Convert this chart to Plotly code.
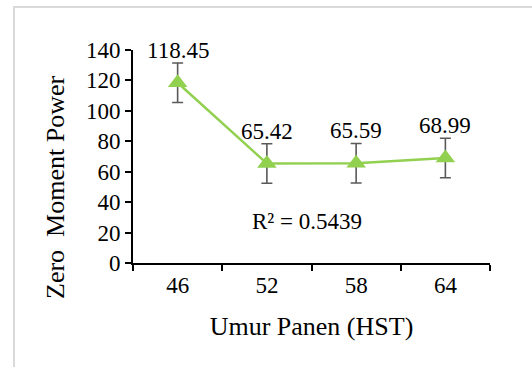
import plotly.graph_objects as go

categories = ["46", "52", "58", "64"]
values = [118.45, 65.42, 65.59, 68.99]
errors = [13, 13, 13, 13]
value_labels = ["118.45", "65.42", "65.59", "68.99"]
y_ticks = [0, 20, 40, 60, 80, 100, 120, 140]
r2_text = "R² = 0.5439"

green = "#92D050"
font_family = "Liberation Serif, Times New Roman, serif"
FS = 23
TFS = 26

fig = go.Figure()
fig.add_trace(go.Scatter(
    x=categories, y=values, mode="lines+markers",
    line=dict(color=green, width=2.5),
    marker=dict(symbol="triangle-up", size=17, color=green),
    error_y=dict(type="data", array=errors, visible=True, color="#595959", thickness=1.6, width=5.5),
    showlegend=False,
))

for i, (v, e, t) in enumerate(zip(values, errors, value_labels)):
    fig.add_annotation(x=i, y=v + e, xref="x", yref="y", text=t, showarrow=False,
                       yanchor="bottom", yshift=-2,
                       font=dict(family=font_family, size=FS, color="black"))

fig.add_annotation(x=1.45, y=27.5, xref="x", yref="y", text=r2_text, showarrow=False,
                   font=dict(family=font_family, size=FS, color="black"))

W, H = 532, 367
L, R, T, B = 133, 42, 50, 104
pw, ph = W - L - R, H - T - B

# y axis title as annotation (offset like reference)
fig.add_annotation(x=(55 - L) / pw, y=(H - B - 188) / ph, xref="paper", yref="paper",
                   xanchor="center", yanchor="middle",
                   text="Zero  Moment Power", showarrow=False, textangle=-90,
                   font=dict(family=font_family, size=TFS, color="black"))

fig.update_layout(
    width=W, height=H,
    margin=dict(l=L, r=R, t=T, b=B, autoexpand=False),
    paper_bgcolor="white", plot_bgcolor="white",
    font=dict(family=font_family, size=FS, color="black"),
    xaxis=dict(
        type="category", range=[-0.5, 3.5], tickson="boundaries",
        showline=True, linecolor="black", linewidth=2,
        ticks="outside", ticklen=6, tickwidth=2, tickcolor="black",
        showgrid=False, zeroline=False, automargin=False,
        title=dict(text="Umur Panen (HST)", standoff=20, font=dict(size=TFS)),
        tickfont=dict(size=FS),
    ),
    yaxis=dict(
        range=[0, 140], tickvals=y_ticks,
        showline=True, linecolor="black", linewidth=2,
        ticks="outside", ticklen=6, tickwidth=2, tickcolor="black",
        showgrid=False, zeroline=False, automargin=False,
        tickfont=dict(size=FS),
    ),
)

# light gray frame
fig.add_shape(type="rect", xref="paper", yref="paper",
              x0=(14 - L) / pw, x1=(560 - L) / pw,
              y0=(H - B - 400) / ph, y1=(H - B - 7) / ph,
              line=dict(color="#D9D9D9", width=2), layer="below")

fig.write_html("out.html", config={"displayModeBar": False},
               post_script="document.body.style.margin='0';document.body.style.overflow='hidden';")
